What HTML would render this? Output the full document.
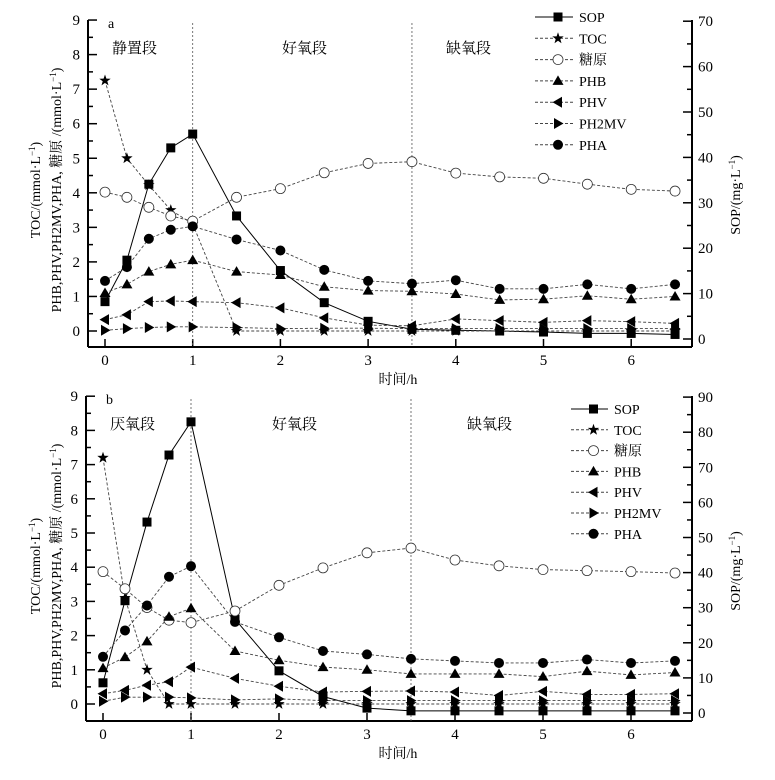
<!DOCTYPE html>
<html><head><meta charset="utf-8"><style>
body{margin:0;background:#fff}
svg text{font-family:"Liberation Serif","Noto Serif CJK SC",serif;fill:#000}
</style></head><body>
<svg id="s" width="775" height="775" xmlns="http://www.w3.org/2000/svg"></svg>
<script>
const S=document.getElementById('s');let h='';
const T=[0,0.25,0.5,0.75,1,1.5,2,2.5,3,3.5,4,4.5,5,5.5,6,6.5];
function mk(type,x,y){
 if(type=='sq')return `<rect x="${x-4.5}" y="${y-4.5}" width="9" height="9" fill="#000"/>`;
 if(type=='ci')return `<circle cx="${x}" cy="${y}" r="5" fill="#000"/>`;
 if(type=='oc')return `<circle cx="${x}" cy="${y}" r="5" fill="#fff" stroke="#333" stroke-width="0.8"/>`;
 if(type=='tu')return `<polygon points="${x},${y-5.5} ${x+5.5},${y+4} ${x-5.5},${y+4}" fill="#000"/>`;
 if(type=='tl')return `<polygon points="${x-5.5},${y} ${x+4},${y-5.5} ${x+4},${y+5.5}" fill="#000"/>`;
 if(type=='tr')return `<polygon points="${x+5.5},${y} ${x-4},${y-5.5} ${x-4},${y+5.5}" fill="#000"/>`;
 if(type=='st'){let p=[];for(let i=0;i<10;i++){const a=-Math.PI/2+i*Math.PI/5,rr=i%2?2.4:6;p.push((x+rr*Math.cos(a)).toFixed(1)+','+(y+rr*Math.sin(a)).toFixed(1));}return `<polygon points="${p.join(' ')}" fill="#000"/>`;}
}
function panel(P){
 const X=t=>P.x0+t*P.px, Y=v=>P.y0-v*P.py;
 h+=`<line x1="${P.L}" y1="${P.top}" x2="${P.L}" y2="${P.bot}" stroke="#000" stroke-width="2"/>`;
 h+=`<line x1="${P.R}" y1="${P.top}" x2="${P.R}" y2="${P.bot}" stroke="#000" stroke-width="2"/>`;
 h+=`<line x1="${P.L}" y1="${P.bot}" x2="${P.R}" y2="${P.bot}" stroke="#000" stroke-width="2"/>`;
 for(let v=0;v<=9;v+=0.5){const y=Y(v);h+=`<line x1="${P.L}" y1="${y}" x2="${P.L+(v%1?5:9)}" y2="${y}" stroke="#000" stroke-width="1.5"/>`;
  if(v%1==0)h+=`<text x="${P.L-8}" y="${y+5}" font-size="15" text-anchor="end">${v}</text>`;}
 for(let v=0;v<=P.rmax;v+=5){const y=P.ry0-v*P.rpy;h+=`<line x1="${P.R}" y1="${y}" x2="${P.R-(v%10?5:9)}" y2="${y}" stroke="#000" stroke-width="1.5"/>`;
  if(v%10==0)h+=`<text x="${P.R+6}" y="${y+5}" font-size="15">${v}</text>`;}
 for(let t=0;t<=6;t++){const x=X(t);h+=`<line x1="${x}" y1="${P.bot}" x2="${x}" y2="${P.bot-8}" stroke="#000" stroke-width="1.5"/>`;
  h+=`<text x="${x}" y="${P.bot+18}" font-size="15" text-anchor="middle">${t}</text>`;}
 h+=`<text x="398" y="${P.bot+37}" font-size="14" text-anchor="middle">时间/h</text>`;
 [1,3.5].forEach(t=>h+=`<line x1="${X(t)}" y1="${P.top+3}" x2="${X(t)}" y2="${P.bot}" stroke="#555" stroke-width="0.8" stroke-dasharray="2,2"/>`);
 h+=`<text x="${P.L+20}" y="${P.top+8}" font-size="14">${P.lab}</text>`;
 P.sec.forEach(s=>h+=`<text x="${s[0]}" y="${P.top+33}" font-size="15">${s[1]}</text>`);
 const cy=P.top+170;
 h+=`<text transform="translate(40,${cy}) rotate(-90)" font-size="14" text-anchor="middle">TOC/(mmol·L<tspan dy="-5" font-size="9">−1</tspan><tspan dy="5">)</tspan></text>`;
 h+=`<text transform="translate(61,${cy}) rotate(-90)" font-size="14" text-anchor="middle">PHB,PHV,PH2MV,PHA, 糖原 /(mmol·L<tspan dy="-5" font-size="9">−1</tspan><tspan dy="5">)</tspan></text>`;
 h+=`<text transform="translate(740,${cy+5}) rotate(-90)" font-size="14" text-anchor="middle">SOP/(mg·L<tspan dy="-5" font-size="9">−1</tspan><tspan dy="5">)</tspan></text>`;
 P.series.forEach(s=>{const pts=s.d.map((v,i)=>[X(T[i]),Y(v)]);
  h+=`<polyline points="${pts.map(p=>p.join(',')).join(' ')}" fill="none" stroke="${s.solid?'#000':'#444'}" stroke-width="${s.solid?1:0.9}" ${s.solid?'':'stroke-dasharray="3,2"'}/>`;});
 P.series.forEach(s=>{s.d.forEach((v,i)=>h+=mk(s.m,X(T[i]),Y(v)));});
 const names=['SOP','TOC','糖原','PHB','PHV','PH2MV','PHA'];
 P.series.forEach((s,i)=>{const y=P.leg.y+i*P.leg.dy;
  h+=`<line x1="${P.leg.x}" y1="${y}" x2="${P.leg.x+P.leg.w}" y2="${y}" stroke="${s.solid?'#000':'#444'}" stroke-width="1" ${s.solid?'':'stroke-dasharray="3,2"'}/>`;
  h+=mk(s.m,P.leg.x+P.leg.w/2+4,y);
  h+=`<text x="${P.leg.x+P.leg.w+6}" y="${y+5}" font-size="14">${names[i]}</text>`;});
}
panel({L:88,R:692,top:20,bot:347,x0:105,px:87.7,y0:331,py:34.55,ry0:339,rpy:4.54,rmax:70,lab:'a',
 sec:[[112,'静置段'],[282,'好氧段'],[446,'缺氧段']],leg:{x:535,w:38,y:17,dy:21.3},
 series:[
 {m:'sq',solid:1,d:[0.85,2.05,4.25,5.3,5.7,3.33,1.75,0.82,0.28,0.05,0.02,0,-0.03,-0.07,-0.07,-0.1]},
 {m:'st',d:[7.25,5.0,4.22,3.5,3.1,0,0,0,0,0,0,0,0,0,0,0]},
 {m:'oc',d:[4.02,3.87,3.58,3.33,3.18,3.87,4.12,4.58,4.85,4.9,4.57,4.46,4.42,4.25,4.1,4.05]},
 {m:'tu',d:[1.1,1.35,1.72,1.93,2.05,1.72,1.62,1.28,1.17,1.15,1.07,0.9,0.92,1.02,0.92,1.0]},
 {m:'tl',d:[0.33,0.47,0.85,0.87,0.85,0.82,0.67,0.38,0.17,0.15,0.35,0.3,0.25,0.3,0.27,0.22]},
 {m:'tr',d:[0.02,0.07,0.1,0.12,0.12,0.1,0.07,0.08,0.08,0.07,0.07,0.07,0.07,0.07,0.07,0.07]},
 {m:'ci',d:[1.45,1.85,2.67,2.93,3.03,2.65,2.33,1.77,1.45,1.37,1.47,1.22,1.22,1.35,1.22,1.35]}]});
panel({L:86,R:692,top:396,bot:721,x0:103,px:88,y0:704,py:34.2,ry0:713,rpy:3.51,rmax:90,lab:'b',
 sec:[[110,'厌氧段'],[272,'好氧段'],[467,'缺氧段']],leg:{x:571,w:37,y:409,dy:20.8},
 series:[
 {m:'sq',solid:1,d:[0.62,3.02,5.32,7.28,8.25,2.48,0.97,0.22,-0.12,-0.2,-0.2,-0.2,-0.2,-0.2,-0.2,-0.2]},
 {m:'st',d:[7.2,3.1,1.0,0,0,0,0,0,0,0,0,0,0,0,0,0]},
 {m:'oc',d:[3.87,3.37,2.82,2.45,2.38,2.72,3.47,3.98,4.42,4.56,4.21,4.04,3.93,3.9,3.87,3.83]},
 {m:'tu',d:[1.05,1.37,1.83,2.55,2.8,1.55,1.28,1.08,1.0,0.88,0.88,0.88,0.8,0.96,0.85,0.92]},
 {m:'tl',d:[0.3,0.4,0.55,0.65,1.08,0.75,0.52,0.35,0.37,0.38,0.35,0.25,0.37,0.28,0.28,0.3]},
 {m:'tr',d:[0.08,0.2,0.2,0.2,0.18,0.12,0.15,0.1,0.1,0.1,0.1,0.1,0.1,0.1,0.1,0.1]},
 {m:'ci',d:[1.38,2.15,2.88,3.72,4.03,2.4,1.95,1.55,1.45,1.32,1.26,1.2,1.2,1.3,1.2,1.26]}]});
S.innerHTML=h;
</script>
</body></html>
